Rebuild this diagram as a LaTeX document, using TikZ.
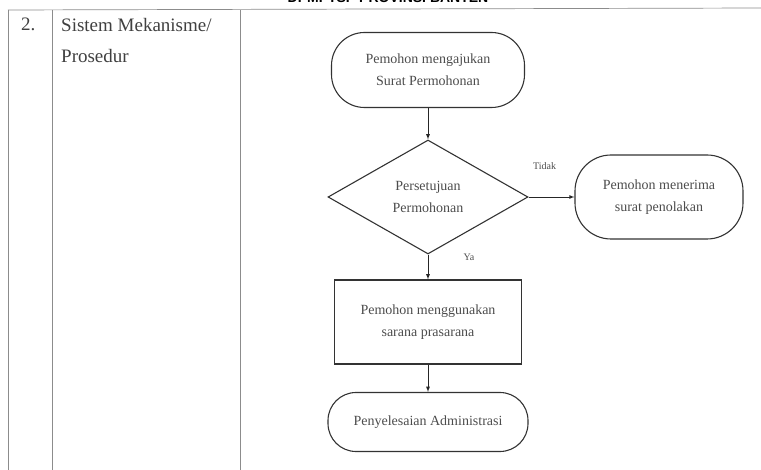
\documentclass[tikz,border=0pt]{standalone}
\usepackage{fontspec}
\setmainfont{Liberation Serif}
\setsansfont{Liberation Sans}
\usetikzlibrary{arrows}
\usetikzlibrary{shapes.geometric}

\begin{document}
\begin{tikzpicture}[x=1pt,y=-1pt,>=latex,
  tabline/.style={draw=black!45,line width=0.7pt},
  celltxt/.style={text=black!75,font=\fontsize{19}{31}\selectfont,inner sep=0pt},
  txt/.style={text=black!70,align=center,font=\fontsize{14}{22}\selectfont},
  term/.style={txt,draw=black!80,line width=1.1pt,rounded corners=#1},
  proc/.style={txt,draw=black!80,line width=1.1pt},
  dec/.style={txt,draw=black!80,line width=1.1pt,diamond,aspect=1.75,inner sep=0pt},
  arr/.style={->,draw=black!85,line width=0.8pt},
  lbl/.style={text=black!70,font=\fontsize{10}{12}\selectfont}]
  \useasboundingbox (0,0) rectangle (761,470);
  \begin{scope}
    \clip (0,0) rectangle (761,470);
    \node[font=\sffamily\bfseries\fontsize{14}{16}\selectfont,anchor=base] (kop) at (388,3) {DPMPTSP PROVINSI BANTEN};
  \end{scope}
  \draw[tabline] (8,10) -- (761,8);
  \draw[tabline] (8,10) -- (8,470);
  \draw[tabline] (52,10) -- (52,470);
  \draw[tabline] (240,10) -- (240,470);
  \node[celltxt,anchor=north west] (no) at (21,18) {2.};
  \node[celltxt,anchor=north west,align=left] (aspek) at (61,18) {Sistem Mekanisme/\\Prosedur};

  \node[term=33pt,minimum width=193pt,minimum height=75pt] (ajukan) at (428,70) {Pemohon mengajukan\\Surat Permohonan};
  \node[dec,minimum width=200pt,minimum height=114pt] (setuju) at (428,197) {Persetujuan\\Permohonan};
  \node[term=36pt,minimum width=168pt,minimum height=84pt] (tolak) at (659,197) {Pemohon menerima\\surat penolakan};
  \node[proc,minimum width=187pt,minimum height=84pt] (guna) at (428,322) {Pemohon menggunakan\\sarana prasarana};
  \node[term=28pt,minimum width=200pt,minimum height=59pt] (selesai) at (428,422) {Penyelesaian Administrasi};

  \draw[arr] (ajukan) -- (setuju);
  \draw[arr] (setuju) -- node[lbl,pos=0.35,above=24pt] {Tidak} (tolak);
  \draw[arr] (setuju) -- node[lbl,pos=0.12,right=32pt] {Ya} (guna);
  \draw[arr] (guna) -- (selesai);
\end{tikzpicture}
\end{document}
